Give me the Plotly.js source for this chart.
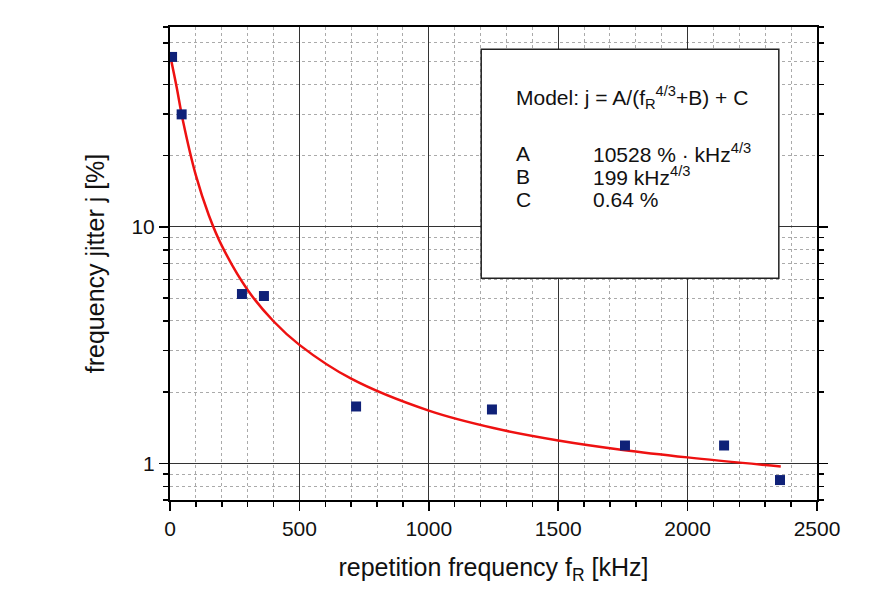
<!DOCTYPE html>
<html>
<head>
<meta charset="utf-8">
<script src="https://cdn.plot.ly/plotly-3.0.1.min.js"></script>
<style>
  body { margin: 0; background: #fff; }
  #chart { width: 891px; height: 601px; }
</style>
</head>
<body>
<div id="chart"></div>
<script>
// measured points
let measFreq = [8, 45, 278, 363, 719, 1244, 1758, 2141, 2357];
let measJitter = [52.3, 29.9, 5.2, 5.1, 1.74, 1.69, 1.19, 1.19, 0.85];

// fit curve
let fitFreq = [0, 25, 50, 100, 150, 200, 300, 400, 500, 700, 1000, 1250, 1500, 1750, 2000, 2360];
let fitJitter = [53.5, 39.3, 28.1, 16.5, 11.2, 8.33, 5.41, 3.99, 3.17, 2.28, 1.67, 1.41, 1.25, 1.14, 1.06, 0.97];

let paramNames = ['A', 'B', 'C'];
let paramValues = ['10528 % · kHz<sup>4/3</sup>', '199 kHz<sup>4/3</sup>', '0.64 %'];

let fontFamily = 'Liberation Sans, Arial, sans-serif';

let data = [
    {
        x: fitFreq,
        y: fitJitter,
        type: 'scatter',
        mode: 'lines',
        line: { color: '#ee1111', width: 2.5, shape: 'spline' },
        hoverinfo: 'skip'
    },
    {
        x: measFreq,
        y: measJitter,
        type: 'scatter',
        mode: 'markers',
        marker: { symbol: 'square', size: 10, color: '#0f2178' }
    }
];

let annotations = [
    {
        xref: 'paper', yref: 'paper', x: 0.532, y: 0.851,
        xanchor: 'left', yanchor: 'middle', showarrow: false,
        text: 'Model: j = A/(f<sub>R</sub><sup>4/3</sup>+B) + C',
        font: { family: fontFamily, size: 21, color: '#111' }
    }
];
let rowY = [0.733, 0.684, 0.635];
paramNames.forEach(function (name, i) {
    annotations.push({
        xref: 'paper', yref: 'paper', x: 0.532, y: rowY[i],
        xanchor: 'left', yanchor: 'middle', showarrow: false,
        text: name,
        font: { family: fontFamily, size: 21, color: '#111' }
    });
    annotations.push({
        xref: 'paper', yref: 'paper', x: 0.65, y: rowY[i],
        xanchor: 'left', yanchor: 'middle', showarrow: false,
        text: paramValues[i],
        font: { family: fontFamily, size: 21, color: '#111' }
    });
});

let minorGrid = { ticks: 'outside', ticklen: 5, tickwidth: 1.5, tickcolor: '#000', showgrid: true, griddash: 'dot', gridcolor: '#aaa', gridwidth: 1 };

let layout = {
    width: 891,
    height: 601,
    margin: { l: 170, r: 74, t: 27, b: 101 },
    paper_bgcolor: '#fff',
    plot_bgcolor: '#fff',
    showlegend: false,
    font: { family: fontFamily, size: 21, color: '#111' },
    xaxis: {
        range: [0, 2500],
        dtick: 500,
        ticks: 'outside',
        ticklen: 9,
        tickwidth: 1.5,
        tickcolor: '#000',
        tickfont: { size: 21 },
        showline: true,
        linewidth: 2,
        linecolor: '#000',
        mirror: true,
        showgrid: true,
        gridcolor: '#333',
        gridwidth: 1,
        zeroline: false,
        minor: Object.assign({ dtick: 100 }, minorGrid),
        title: { text: 'repetition frequency f<sub>R</sub> [kHz]', font: { size: 25 }, standoff: 19 }
    },
    xaxis2: {
        overlaying: 'x',
        anchor: 'y',
        side: 'top',
        range: [0, 2500],
        dtick: 500,
        ticks: 'inside',
        ticklen: 9,
        tickwidth: 1.5,
        tickcolor: '#000',
        showticklabels: false,
        showgrid: false,
        zeroline: false,
        minor: { dtick: 100, ticks: 'inside', ticklen: 5, tickwidth: 1.5, tickcolor: '#000', showgrid: false }
    },
    yaxis: {
        type: 'log',
        range: [Math.log10(0.7), Math.log10(70)],
        dtick: 1,
        ticks: 'outside',
        ticklen: 9,
        tickwidth: 1.5,
        tickcolor: '#000',
        tickfont: { size: 21 },
        showline: true,
        linewidth: 2,
        linecolor: '#000',
        mirror: 'allticks',
        showgrid: true,
        gridcolor: '#333',
        gridwidth: 1,
        zeroline: false,
        minor: Object.assign({ dtick: 'D1' }, minorGrid),
        title: { text: 'frequency jitter j [%]', font: { size: 25 }, standoff: 20 }
    },
    shapes: [
        {
            type: 'rect', xref: 'paper', yref: 'paper',
            x0: 0.481, x1: 0.941, y0: 0.469, y1: 0.953,
            fillcolor: '#fff', line: { color: '#222', width: 1.5 }, layer: 'above'
        }
    ],
    annotations: annotations
};

Plotly.newPlot('chart', data, layout, { displayModeBar: false, staticPlot: true });
</script>
</body>
</html>
